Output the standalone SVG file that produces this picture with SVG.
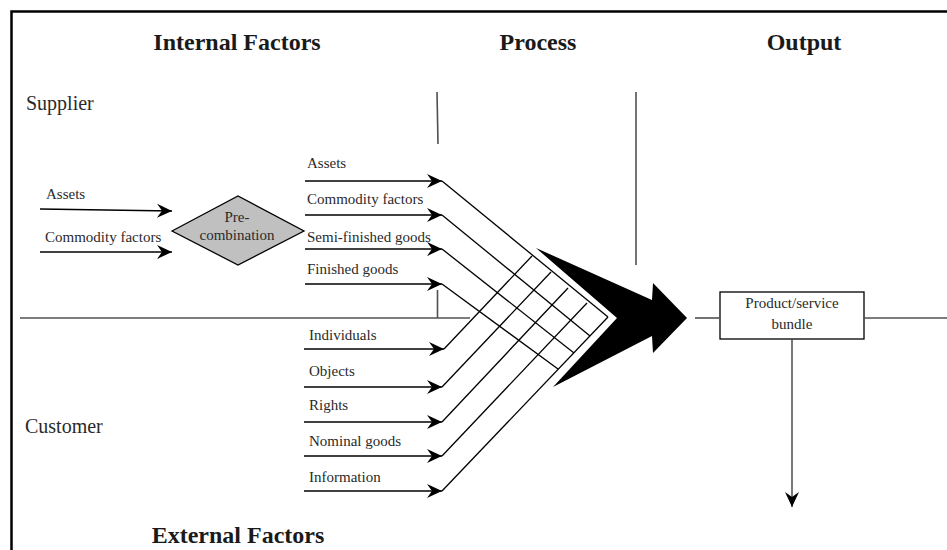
<svg xmlns="http://www.w3.org/2000/svg" width="947" height="550" viewBox="0 0 947 550">
<defs>
<style>
.t{font-family:"Liberation Serif","Times New Roman",serif;fill:#2a2a2a;font-size:15px}
.h{font-family:"Liberation Serif","Times New Roman",serif;fill:#1a1a1a;font-size:24px;font-weight:bold}
.s{font-family:"Liberation Serif","Times New Roman",serif;fill:#2a2a2a;font-size:20px}
.a{stroke:#000;stroke-width:1.4;fill:none;marker-end:url(#ah)}
.g{stroke:#000;stroke-width:1.3;fill:none}
.d{stroke:#505050;stroke-width:1.6;fill:none}
</style>
<marker id="ah" markerUnits="userSpaceOnUse" markerWidth="18" markerHeight="16" viewBox="-16 -8 17 16" refX="0" refY="0" orient="auto">
<path d="M0,0 L-15,-7 L-10,0 L-15,7 Z" fill="#000"/>
</marker>
</defs>
<rect width="947" height="550" fill="#fff"/>
<rect x="11.5" y="11.5" width="970" height="570" fill="none" stroke="#000" stroke-width="2.5"/>

<g id="titles">
<text class="h" x="237" y="50" text-anchor="middle">Internal Factors</text>
<text class="h" x="538" y="50" text-anchor="middle">Process</text>
<text class="h" x="804" y="50" text-anchor="middle">Output</text>
<text class="h" x="238" y="543" text-anchor="middle">External Factors</text>
<text class="s" x="26" y="110">Supplier</text>
<text class="s" x="25" y="433">Customer</text>
</g>

<g id="dividers">
<line class="d" x1="20" y1="318" x2="470" y2="318"/>
<line class="d" x1="437" y1="92" x2="438" y2="144"/>
<line class="d" x1="437.5" y1="290" x2="437.5" y2="318"/>
<line class="d" x1="636" y1="92" x2="636" y2="265"/>
</g>

<g id="left-inputs">
<text class="t" x="46" y="199">Assets</text>
<text class="t" x="45" y="242">Commodity factors</text>
</g>

<g id="precombination">
<polygon points="172,231 238,196 304,231 238,265" fill="#c0c0c0" stroke="#000" stroke-width="1.3"/>
<text class="t" x="237" y="222" text-anchor="middle">Pre-</text>
<text class="t" x="237" y="240" text-anchor="middle">combination</text>
</g>

<g id="supplier-factors">
<text class="t" x="307" y="168">Assets</text>
<text class="t" x="307" y="204">Commodity factors</text>
<text class="t" x="307" y="242">Semi-finished goods</text>
<text class="t" x="307" y="274">Finished goods</text>
</g>

<g id="customer-factors">
<text class="t" x="309" y="340">Individuals</text>
<text class="t" x="309" y="376">Objects</text>
<text class="t" x="309" y="410">Rights</text>
<text class="t" x="309" y="446">Nominal goods</text>
<text class="t" x="309" y="482">Information</text>
</g>

<g id="process-arrow">
<polygon points="536,248 652,300 653,283 687,318 653,353 652,336 553,387 617,318" fill="#000"/>
</g>

<g id="bundle">
<rect x="720" y="292" width="144" height="47" fill="#fff" stroke="#000" stroke-width="1.3"/>
<text class="t" x="792" y="308" text-anchor="middle">Product/service</text>
<text class="t" x="792" y="329" text-anchor="middle">bundle</text>
</g>

<g id="connectors">
<line class="a" x1="40" y1="209" x2="172" y2="211"/>
<line class="a" x1="40" y1="252" x2="172" y2="252"/>
<line class="a" x1="305" y1="181" x2="442" y2="181"/>
<line class="a" x1="305" y1="215" x2="442" y2="215"/>
<line class="a" x1="305" y1="249" x2="442" y2="249"/>
<line class="a" x1="305" y1="284" x2="442" y2="284"/>
<line class="a" x1="304" y1="349" x2="444" y2="349"/>
<line class="a" x1="304" y1="387" x2="442" y2="387"/>
<line class="a" x1="304" y1="422" x2="442" y2="422"/>
<line class="a" x1="304" y1="456" x2="442" y2="456"/>
<line class="a" x1="304" y1="491" x2="442" y2="491"/>
<line class="g" x1="442" y1="181" x2="608" y2="317"/>
<line class="g" x1="442" y1="215" x2="590" y2="336"/>
<line class="g" x1="442" y1="249" x2="574" y2="353"/>
<line class="g" x1="442" y1="284" x2="558" y2="369"/>
<line class="g" x1="444" y1="349" x2="532" y2="256"/>
<line class="g" x1="442" y1="387" x2="551" y2="272"/>
<line class="g" x1="442" y1="422" x2="568" y2="288"/>
<line class="g" x1="442" y1="456" x2="587" y2="303"/>
<line class="g" x1="442" y1="491" x2="608" y2="317"/>
<line class="d" x1="695" y1="318" x2="720" y2="318"/>
<line class="d" x1="864" y1="318" x2="947" y2="318"/>
<line class="a" x1="792" y1="339" x2="792" y2="507" style="stroke:#404040"/>
</g>
</svg>
